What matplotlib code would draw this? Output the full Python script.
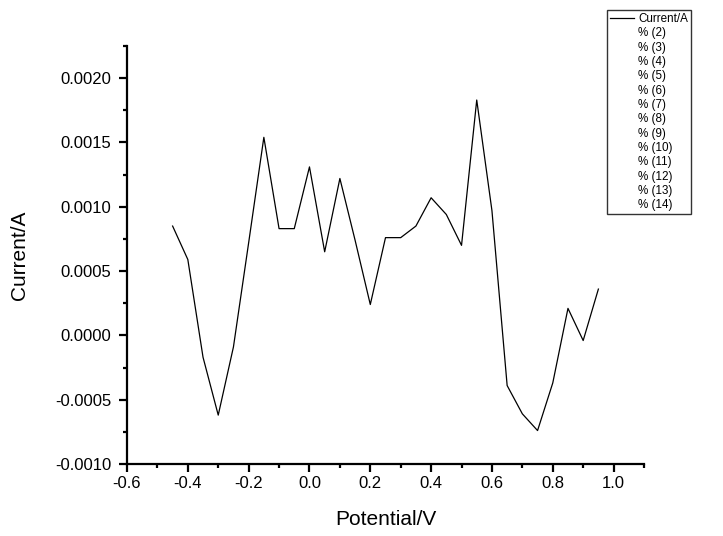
import numpy as np
import matplotlib
matplotlib.use("Agg")
import matplotlib.pyplot as plt
from matplotlib.ticker import MultipleLocator, FormatStrFormatter

plt.rcParams['font.family'] = ['Liberation Sans', 'DejaVu Sans']

# potential (V) and measured current (A)
potential = [-0.45, -0.40, -0.35, -0.30, -0.25, -0.20, -0.15, -0.10, -0.05, 0.00,
             0.05, 0.10, 0.15, 0.20, 0.25, 0.30, 0.35, 0.40, 0.45, 0.50,
             0.55, 0.60, 0.65, 0.70, 0.75, 0.80, 0.85, 0.90, 0.95]
current = [0.00085, 0.00059, -0.00017, -0.00062, -0.00009, 0.00072, 0.00154, 0.00083, 0.00083, 0.00131,
           0.00065, 0.00122, 0.00074, 0.00024, 0.00076, 0.00076, 0.00085, 0.00107, 0.00094, 0.00070,
           0.00183, 0.00097, -0.00039, -0.00061, -0.00074, -0.00037, 0.00021, -0.00004, 0.00036]
extra_labels = ["%% (%d)" % i for i in range(2, 15)]

fig = plt.figure(figsize=(7.23, 5.36), dpi=100)
ax = fig.add_axes([127 / 723, 72 / 536, 517 / 723, 418 / 536])

ax.plot(potential, current, color='black', linewidth=0.9, label='Current/A')
for lab in extra_labels:
    ax.plot([], [], linestyle='none', label=lab)

ax.set_xlim(-0.6, 1.1)
ax.set_ylim(-0.001, 0.00225)
ax.xaxis.set_major_locator(MultipleLocator(0.2))
ax.xaxis.set_minor_locator(MultipleLocator(0.1))
ax.yaxis.set_major_locator(MultipleLocator(0.0005))
ax.yaxis.set_minor_locator(MultipleLocator(0.00025))
ax.xaxis.set_major_formatter(FormatStrFormatter('%.1f'))
ax.yaxis.set_major_formatter(FormatStrFormatter('%.4f'))

for side in ['top', 'right']:
    ax.spines[side].set_visible(False)
for side in ['left', 'bottom']:
    ax.spines[side].set_linewidth(1.6)

ax.tick_params(which='major', direction='out', length=5.5, width=1.6, labelsize=12)
ax.tick_params(which='minor', direction='out', length=3, width=1.6)
ax.tick_params(axis='y', which='major', pad=6)

ax.set_xlabel('Potential/V', fontsize=15, labelpad=13)
ax.set_ylabel('Current/A', fontsize=15)
ax.yaxis.set_label_coords(-0.19, 0.5)

leg = fig.legend(loc='upper left', bbox_to_anchor=(607 / 723, 1 - 10 / 536),
                 fontsize=8.4, frameon=True, fancybox=False, handlelength=2.1,
                 handletextpad=0.35, labelspacing=0.2, borderpad=0.25,
                 borderaxespad=0)
leg.get_frame().set_edgecolor('black')
leg.get_frame().set_linewidth(1.0)

fig.savefig('out.png', dpi=100)
